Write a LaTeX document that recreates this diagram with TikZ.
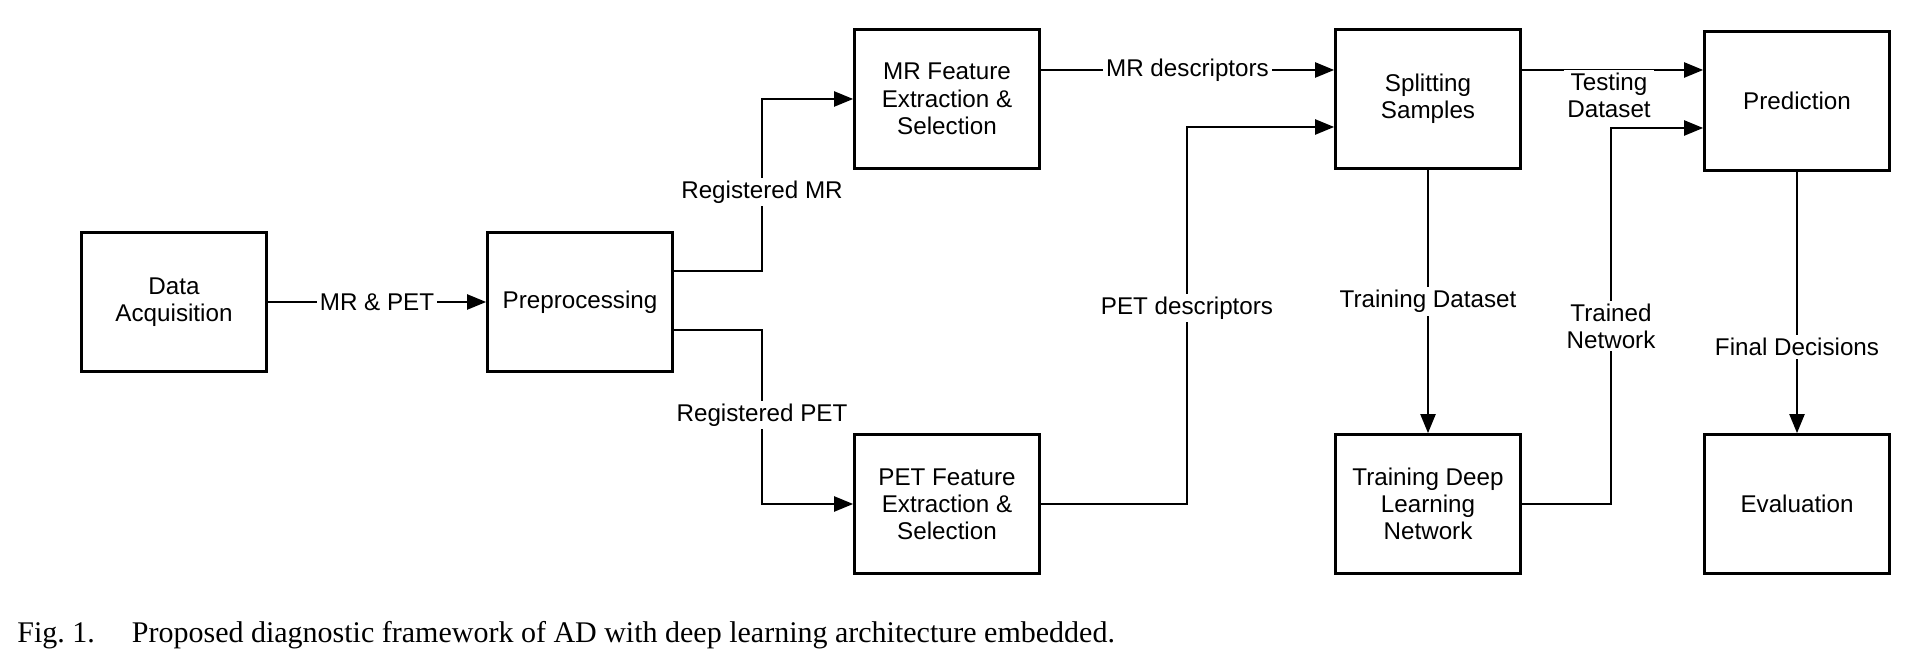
\documentclass[tikz,border=0pt]{standalone}
\usepackage{fontspec}
\setmainfont{Liberation Serif}
\newfontfamily\arialf{Liberation Sans}
\usetikzlibrary{arrows.meta,positioning,calc}
\begin{document}
\begin{tikzpicture}[x=0.5pt,y=-0.5pt,
  box/.style={draw,line width=1.35pt,minimum width=92.5pt,minimum height=69.5pt,align=center,inner sep=2pt,font=\arialf\fontsize{12.1}{13.6}\selectfont},
  lab/.style={fill=white,inner sep=1.5pt,align=center,font=\arialf\fontsize{12.1}{13.6}\selectfont},
  arr/.style={line width=1.1pt,-{Triangle[length=9.5pt,width=7.5pt]}},
  ln/.style={line width=1.1pt}]
\useasboundingbox (0,0) rectangle (1910,672);
\node[box] (da) at (174,302) {Data\\Acquisition};
\node[box] (pre) at (580,302) {Preprocessing};
\node[box] (mr) at (947,99) {MR Feature\\Extraction \&\\Selection};
\node[box] (pet) at (947,504) {PET Feature\\Extraction \&\\Selection};
\node[box] (split) at (1428,99) {Splitting\\Samples};
\node[box] (train) at (1428,504) {Training Deep\\Learning\\Network};
\node[box] (pred) at (1797,101) {Prediction};
\node[box] (eval) at (1797,504) {Evaluation};
\coordinate (c1) at (762,99);
\coordinate (c2) at (762,504);
\coordinate (c3) at (1187,127);
\coordinate (c4) at (1611,128);
% connectors
\draw[arr] (da.east) -- node[lab] {MR \& PET} (pre.east-|pre.west);
\draw[arr] ([yshift=15.5pt]pre.east) -| (c1) -- (c1-|mr.west);
\draw[arr] ([yshift=-14pt]pre.east) -| (c2) -- (c2-|pet.west);
\node[lab] (lrm) at (762,192) {Registered MR};
\node[lab] (lrp) at (762,415) {Registered PET};
\draw[arr] ([yshift=14.5pt]mr.east) -- node[lab] {MR descriptors} ([yshift=14.5pt]mr.east-|split.west);
\draw[arr] (pet.east) -| (c3) -- (c3-|split.west);
\node[lab] (lpd) at (1187,308) {PET descriptors};
\draw[arr] ([yshift=14.5pt]split.east) -- ([yshift=14.5pt]split.east-|pred.west);
\node[lab] (ltd) at (1609,95) {Testing\\Dataset};
\draw[arr] (split.south) -- node[lab] {Training Dataset} (train.north);
\draw[arr] (train.east) -| (c4) -- (c4-|pred.west);
\node[lab] (ltn) at (1611,326) {Trained\\Network};
\draw[arr] (pred.south) -- node[lab,pos=0.67] {Final Decisions} (pred.south|-eval.north);
% caption
\node[anchor=base west,inner sep=0pt,font=\fontsize{15}{18}\selectfont] (cap) at (17,643) {Fig.~1.\hspace{18.5pt}Proposed diagnostic framework of AD with deep learning architecture embedded.};
\end{tikzpicture}
\end{document}
